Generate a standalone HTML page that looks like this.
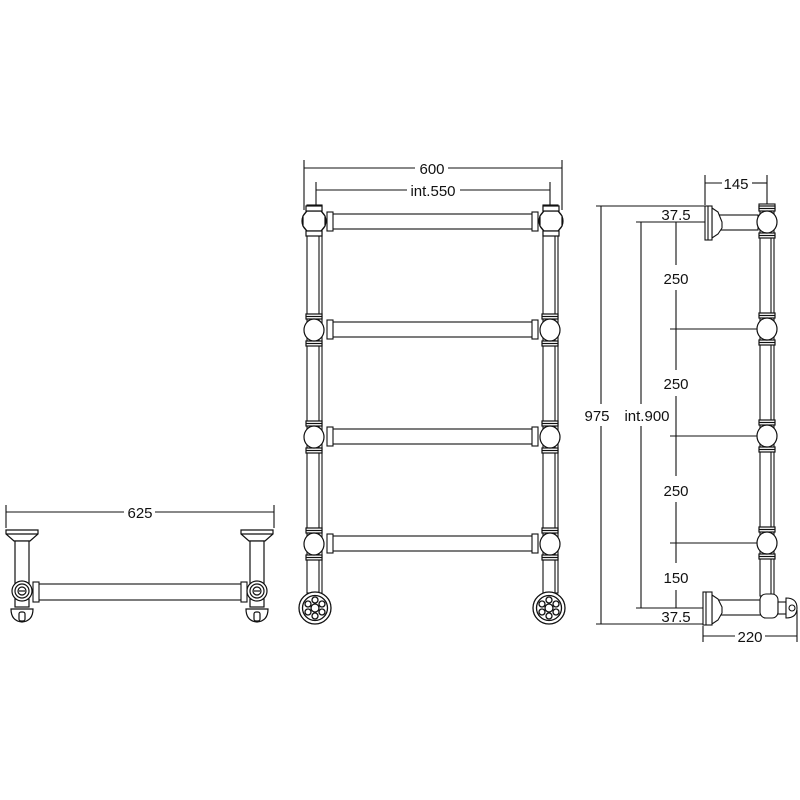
<!DOCTYPE html>
<html><head><meta charset="utf-8"><style>
html,body{margin:0;padding:0;background:#fff}
svg{display:block}
text{font-family:"Liberation Sans",sans-serif;font-size:15px;fill:#111}
</style></head><body>
<svg width="800" height="800" viewBox="0 0 800 800" xmlns="http://www.w3.org/2000/svg">
<defs>
<g id="ball" fill="#fff" stroke="#111" stroke-width="1.2">
 <rect x="-8" y="-16" width="16" height="5"/>
 <line x1="-8" y1="-13.5" x2="8" y2="-13.5"/>
 <rect x="-8" y="11" width="16" height="5"/>
 <line x1="-8" y1="13.5" x2="8" y2="13.5"/>
 <ellipse cx="0" cy="0" rx="10" ry="11"/>
</g>
<g id="wheel" fill="#fff" stroke="#111" stroke-width="1.3">
 <circle r="16"/><circle r="12.5"/><circle r="4"/>
 <circle cx="0" cy="-8" r="3"/><circle cx="0" cy="8" r="3"/>
 <circle cx="-7" cy="-4" r="3"/><circle cx="7" cy="-4" r="3"/>
 <circle cx="-7" cy="4" r="3"/><circle cx="7" cy="4" r="3"/>
</g>
<g id="knob" fill="#fff" stroke="#111" stroke-width="1.2">
 <circle r="12"/>
 <path d="M-7,-10 L7,-10 L11,-5 L11,5 L7,10 L-7,10 L-11,5 L-11,-5 Z"/>
 <rect x="-8" y="-15" width="16" height="5"/>
 <rect x="-8" y="10" width="16" height="5"/>
</g>
<g id="lbr" fill="#fff" stroke="#111" stroke-width="1.2">
 <path d="M-16,-61 L16,-61 L16,-57 L8,-50 L-8,-50 L-16,-57 Z"/>
 <line x1="-16" y1="-57" x2="16" y2="-57"/>
 <rect x="-7" y="-50" width="14" height="43"/>
 <rect x="-7" y="8" width="14" height="8"/>
 <circle r="10"/><circle r="7"/><circle r="4"/>
 <line x1="-3" y1="0" x2="3" y2="0"/>
 <path d="M-11,18 L11,18 Q11,30 0,31 Q-11,30 -11,18 Z"/>
 <rect x="-3" y="21" width="6" height="9" rx="2"/>
</g>
</defs>
<g stroke="#111" stroke-width="1.1" fill="none">
 <!-- front view dims -->
 <line x1="304" y1="160" x2="304" y2="210"/><line x1="562" y1="160" x2="562" y2="210"/>
 <line x1="304" y1="168" x2="415" y2="168"/><line x1="448" y1="168" x2="562" y2="168"/>
 <line x1="316" y1="182" x2="316" y2="210"/><line x1="550" y1="182" x2="550" y2="210"/>
 <line x1="316" y1="190" x2="407" y2="190"/><line x1="460" y1="190" x2="550" y2="190"/>
 <!-- columns -->
 <rect x="307" y="205" width="15" height="388" fill="#fff"/>
 <rect x="543" y="205" width="15" height="388" fill="#fff"/>
 <line x1="319" y1="205" x2="319" y2="593"/><line x1="555" y1="205" x2="555" y2="593"/>
 <!-- bars -->
 <g fill="#fff">
  <rect x="332" y="214" width="201" height="15"/>
  <rect x="332" y="322" width="201" height="15"/>
  <rect x="332" y="429" width="201" height="15"/>
  <rect x="332" y="536" width="201" height="15"/>
  <rect x="327" y="212" width="6" height="19"/><rect x="532" y="212" width="6" height="19"/>
  <rect x="327" y="320" width="6" height="19"/><rect x="532" y="320" width="6" height="19"/>
  <rect x="327" y="427" width="6" height="19"/><rect x="532" y="427" width="6" height="19"/>
  <rect x="327" y="534" width="6" height="19"/><rect x="532" y="534" width="6" height="19"/>
 </g>
</g>
<use href="#knob" x="314" y="221"/><use href="#knob" x="551" y="221"/>
<use href="#ball" x="314" y="330"/><use href="#ball" x="550" y="330"/>
<use href="#ball" x="314" y="437"/><use href="#ball" x="550" y="437"/>
<use href="#ball" x="314" y="544"/><use href="#ball" x="550" y="544"/>
<use href="#wheel" x="315" y="608"/><use href="#wheel" x="549" y="608"/>
<text x="432" y="174" text-anchor="middle">600</text>
<text x="433" y="196" text-anchor="middle">int.550</text>

<!-- side view -->
<g stroke="#111" stroke-width="1.1" fill="none">
 <line x1="596" y1="206" x2="710" y2="206"/><line x1="601" y1="206" x2="601" y2="404"/><line x1="601" y1="426" x2="601" y2="624"/>
 <line x1="596" y1="624" x2="705" y2="624"/>
 <line x1="636" y1="222" x2="705" y2="222"/><line x1="641" y1="222" x2="641" y2="404"/><line x1="641" y1="426" x2="641" y2="608"/>
 <line x1="636" y1="608" x2="705" y2="608"/>
 <line x1="676" y1="222" x2="676" y2="265"/><line x1="676" y1="290" x2="676" y2="370"/><line x1="676" y1="396" x2="676" y2="476"/><line x1="676" y1="502" x2="676" y2="563"/><line x1="676" y1="590" x2="676" y2="608"/>
 <line x1="670" y1="329" x2="757" y2="329"/><line x1="670" y1="436" x2="757" y2="436"/><line x1="670" y1="543" x2="757" y2="543"/>
 <line x1="705" y1="175" x2="705" y2="205"/><line x1="767" y1="175" x2="767" y2="205"/>
 <line x1="705" y1="183" x2="722" y2="183"/><line x1="752" y1="183" x2="767" y2="183"/>
 <line x1="703" y1="626" x2="703" y2="642"/><line x1="797" y1="610" x2="797" y2="642"/>
 <line x1="703" y1="636" x2="735" y2="636"/><line x1="765" y1="636" x2="797" y2="636"/>
 <g fill="#fff">
  <rect x="760" y="210" width="14" height="386"/>
  <line x1="771" y1="210" x2="771" y2="596"/>
  <rect x="718" y="215" width="40" height="15"/>
  <path d="M712,208 L718,212 L722,222 L722,228 L718,234 L712,238 Z"/>
  <rect x="705" y="206" width="7" height="34"/>
  <line x1="708" y1="206" x2="708" y2="240"/>
  <rect x="718" y="600" width="50" height="15"/>
  <path d="M712,595 L718,599 L722,607 L722,613 L718,620 L712,624 Z"/>
  <rect x="703" y="592" width="9" height="33"/>
  <line x1="706" y1="592" x2="706" y2="625"/>
  <rect x="760" y="594" width="18" height="24" rx="6"/>
  <rect x="778" y="602" width="8" height="12"/>
  <path d="M786,598 Q797,598 797,608 Q797,618 786,618 Z"/>
  <circle cx="792" cy="608" r="3"/>
 </g>
 <rect x="759" y="204" width="16" height="6" fill="#fff"/>
</g>
<use href="#ball" x="767" y="222"/>
<use href="#ball" x="767" y="329"/>
<use href="#ball" x="767" y="436"/>
<use href="#ball" x="767" y="543"/>
<text x="736" y="189" text-anchor="middle">145</text>
<text x="676" y="220" text-anchor="middle">37.5</text>
<text x="676" y="284" text-anchor="middle">250</text>
<text x="676" y="389" text-anchor="middle">250</text>
<text x="676" y="496" text-anchor="middle">250</text>
<text x="676" y="583" text-anchor="middle">150</text>
<text x="676" y="622" text-anchor="middle">37.5</text>
<text x="597" y="421" text-anchor="middle">975</text>
<text x="647" y="421" text-anchor="middle">int.900</text>
<text x="750" y="642" text-anchor="middle">220</text>

<!-- left view -->
<g stroke="#111" stroke-width="1.1" fill="none">
 <line x1="6" y1="505" x2="6" y2="528"/><line x1="274" y1="505" x2="274" y2="528"/>
 <line x1="6" y1="512" x2="124" y2="512"/><line x1="155" y1="512" x2="274" y2="512"/>
 <g fill="#fff">
  <rect x="38" y="584" width="204" height="16"/>
  <rect x="33" y="582" width="6" height="20"/><rect x="241" y="582" width="6" height="20"/>
 </g>
</g>
<use href="#lbr" x="22" y="591"/><use href="#lbr" x="257" y="591"/>
<text x="140" y="518" text-anchor="middle">625</text>
</svg>
</body></html>
